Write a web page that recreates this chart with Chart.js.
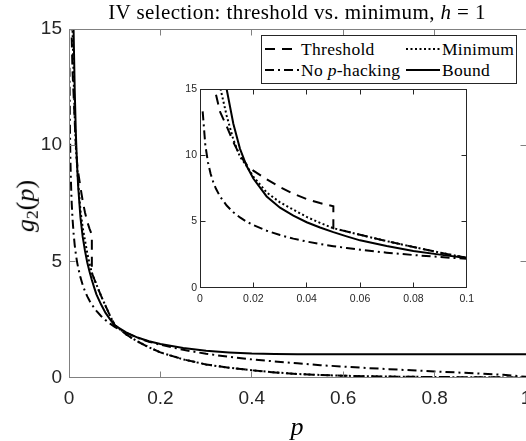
<!DOCTYPE html>
<html>
<head>
<meta charset="utf-8">
<script src="https://cdn.jsdelivr.net/npm/chart.js@4.4.0/dist/chart.umd.min.js"></script>
<style>
  html, body { margin: 0; padding: 0; background: #fff; overflow: hidden; }
  #wrap { position: relative; width: 526px; height: 441px; overflow: hidden; background: #fff; }
  #mainChart { position: absolute; left: 0; top: 0; }
  #insetChart { position: absolute; left: 160px; top: 80px; }
  .txt { position: absolute; font-family: 'Liberation Serif', serif; color: #000; white-space: nowrap; }
  #title { left: 0; width: 594px; top: 2px; text-align: center; font-size: 21px; line-height: 21px; letter-spacing: 0.4px; }
  #ylab { left: 29px; top: 206px; font-size: 26px; line-height: 26px; transform: translate(-50%, -50%) rotate(-90deg); }
  #ylab sub { font-style: normal; font-size: 0.68em; vertical-align: -0.25em; }
  #xlab { left: 297px; top: 427px; font-size: 26px; line-height: 26px; transform: translate(-50%, -50%); }
  #legend { position: absolute; left: 261px; top: 35px; width: 254px; height: 47px; border: 1px solid #262626; background: #fff; }
  .leg { font-size: 17.5px; line-height: 18px; letter-spacing: 0.3px; }
  .sample { position: absolute; }
</style>
</head>
<body>
<div id="wrap">
  <canvas id="mainChart" width="560" height="441"></canvas>
  <div id="legend"></div>
  <svg class="sample" style="left:265px; top:46px" width="34" height="6"><line x1="0" y1="3" x2="34" y2="3" stroke="#000" stroke-width="2" stroke-dasharray="10 7"/></svg>
  <div class="txt leg" style="left:301px; top:40px">Threshold</div>
  <svg class="sample" style="left:406px; top:46px" width="34" height="6"><line x1="0" y1="3" x2="34" y2="3" stroke="#000" stroke-width="2" stroke-dasharray="2 2.5"/></svg>
  <div class="txt leg" style="left:442px; top:40px">Minimum</div>
  <svg class="sample" style="left:265px; top:67px" width="34" height="6"><line x1="0" y1="3" x2="34" y2="3" stroke="#000" stroke-width="2" stroke-dasharray="9 4 2 4"/></svg>
  <div class="txt leg" style="left:301px; top:61px">No <i>p</i>-hacking</div>
  <svg class="sample" style="left:406px; top:67px" width="34" height="6"><line x1="0" y1="3" x2="34" y2="3" stroke="#000" stroke-width="2"/></svg>
  <div class="txt leg" style="left:442px; top:61px">Bound</div>
  <canvas id="insetChart" width="320" height="230"></canvas>
  <div id="title" class="txt">IV selection: threshold vs. minimum, <i>h</i> = 1</div>
  <div id="ylab" class="txt"><i>g</i><sub>2</sub>(<i>p</i>)</div>
  <div id="xlab" class="txt"><i>p</i></div>
</div>
<script>
// p grid shared by Bound, Minimum and No p-hacking
const pGrid = [0.001, 0.002, 0.003, 0.004, 0.005, 0.006, 0.0075, 0.01, 0.0125, 0.015, 0.0175, 0.02,
  0.025, 0.03, 0.035, 0.04, 0.045, 0.05, 0.055, 0.06, 0.07, 0.08, 0.09, 0.1,
  0.125, 0.15, 0.175, 0.2, 0.25, 0.3, 0.35, 0.4, 0.45, 0.5,
  0.55, 0.6, 0.65, 0.7, 0.75, 0.8, 0.85, 0.9, 0.95, 1.0];

const gBound = [118, 63, 44, 34, 27.6, 23.5, 19.2, 15.0, 12.4, 10.5, 9.2, 8.25,
  6.9, 6.05, 5.45, 4.95, 4.55, 4.2, 3.88, 3.58, 3.15, 2.78, 2.5, 2.24,
  1.94, 1.72, 1.56, 1.44, 1.27, 1.15, 1.08, 1.03, 1.01, 1,
  1, 1, 1, 1, 1, 1, 1, 1, 1, 1];

const gMinimum = [80, 45, 33, 27, 23, 19.5, 15.2, 13.0, 11.2, 9.9, 9.2, 8.4,
  7.2, 6.45, 5.9, 5.35, 4.9, 4.5, 4.25, 4.0, 3.52, 3.08, 2.65, 2.26,
  1.85, 1.55, 1.3, 1.08, 0.78, 0.56, 0.42, 0.31, 0.22, 0.15,
  0.11, 0.075, 0.055, 0.04, 0.03, 0.02, 0.015, 0.01, 0.005, 0];

const gNoHacking = [13.33, 10.78, 9.47, 8.6, 7.97, 7.48, 6.9, 6.21, 5.7, 5.31, 4.99, 4.73,
  4.31, 3.98, 3.71, 3.49, 3.3, 3.14, 3.0, 2.87, 2.65, 2.47, 2.32, 2.18,
  1.92, 1.71, 1.54, 1.41, 1.19, 1.02, 0.89, 0.78, 0.69, 0.61,
  0.53, 0.47, 0.41, 0.36, 0.31, 0.26, 0.215, 0.168, 0.117, 0.03];

// threshold has the jump at p = 0.05
const pThreshold = [0.003, 0.004, 0.005, 0.006, 0.0075, 0.01, 0.0125, 0.015, 0.0175, 0.02,
  0.025, 0.03, 0.035, 0.04, 0.045, 0.05, 0.05, 0.055, 0.06, 0.07, 0.08, 0.09, 0.1,
  0.125, 0.15, 0.175, 0.2, 0.25, 0.3, 0.35, 0.4, 0.45, 0.5,
  0.55, 0.6, 0.65, 0.7, 0.75, 0.8, 0.85, 0.9, 0.95, 1.0];
const gThreshold = [30, 22, 16.6, 14.6, 13.3, 12.2, 11.0, 10.0, 9.3, 8.85,
  8.2, 7.6, 7.1, 6.7, 6.4, 6.15, 4.5, 4.25, 4.0, 3.52, 3.08, 2.65, 2.26,
  1.85, 1.55, 1.3, 1.08, 0.78, 0.56, 0.42, 0.31, 0.22, 0.15,
  0.11, 0.075, 0.055, 0.04, 0.03, 0.02, 0.015, 0.01, 0.005, 0];

const mainXTickVals = [0, 0.2, 0.4, 0.6, 0.8, 1];
const mainXTickLabels = ['0', '0.2', '0.4', '0.6', '0.8', '1'];
const mainYTickVals = [0, 5, 10, 15];
const mainYTickLabels = ['0', '5', '10', '15'];
const insetXTickVals = [0, 0.02, 0.04, 0.06, 0.08, 0.1];
const insetXTickLabels = ['0', '0.02', '0.04', '0.06', '0.08', '0.1'];
const insetYTickVals = [0, 5, 10, 15];
const insetYTickLabels = ['0', '5', '10', '15'];

const toPoints = (xs, ys) => xs.map((x, i) => ({ x: x, y: ys[i] }));

const makeSets = () => [
  { label: 'Threshold', data: toPoints(pThreshold, gThreshold), borderDash: [10, 7] },
  { label: 'Minimum', data: toPoints(pGrid, gMinimum), borderDash: [2, 2.5] },
  { label: 'No p-hacking', data: toPoints(pGrid, gNoHacking), borderDash: [9, 4, 2, 4] },
  { label: 'Bound', data: toPoints(pGrid, gBound), borderDash: [] }
].map(d => Object.assign(d, {
  showLine: true, pointRadius: 0, borderColor: '#000', borderWidth: 2,
  tension: 0, fill: false, clip: 0
}));

// box round the plot area and the inward tick marks (MATLAB style)
const boxAndTicks = {
  id: 'boxAndTicks',
  afterDraw(chart, args, opts) {
    const { ctx, chartArea: a, scales } = chart;
    const L = Math.floor(a.left) + 0.5, R = Math.floor(a.right) + 0.5;
    const T = Math.floor(a.top) + 0.5, B = Math.floor(a.bottom) + 0.5;
    ctx.save();
    ctx.strokeStyle = opts.color;
    ctx.lineWidth = 1;
    ctx.setLineDash([]);
    ctx.strokeRect(L, T, R - L, B - T);
    ctx.beginPath();
    scales.x.ticks.forEach(t => {
      const px = Math.floor(scales.x.getPixelForValue(t.value)) + 0.5;
      ctx.moveTo(px, B); ctx.lineTo(px, B - opts.len);
      ctx.moveTo(px, T); ctx.lineTo(px, T + opts.len);
    });
    scales.y.ticks.forEach(t => {
      const py = Math.floor(scales.y.getPixelForValue(t.value)) + 0.5;
      ctx.moveTo(L, py); ctx.lineTo(L + opts.len, py);
      ctx.moveTo(R, py); ctx.lineTo(R - opts.len, py);
    });
    ctx.stroke();
    ctx.restore();
  }
};

const axis = (min, max, vals, labels, fontSize, pad, fitKey, fitSize) => ({
  type: 'linear', min: min, max: max,
  afterBuildTicks: s => { s.ticks = vals.map(v => ({ value: v })); },
  ticks: {
    autoSkip: false, maxRotation: 0, padding: pad, color: '#262626',
    font: { family: 'Liberation Sans', size: fontSize },
    callback: (v, i) => labels[i]
  },
  grid: { display: false, drawTicks: false },
  border: { display: false },
  afterFit: s => { s[fitKey] = fitSize; }
});

const baseOptions = (padding, xAxis, yAxis, boxColor, tickLen) => ({
  responsive: false, animation: false, devicePixelRatio: 1,
  layout: { padding: padding },
  plugins: {
    legend: { display: false }, tooltip: { enabled: false },
    boxAndTicks: { color: boxColor, len: tickLen }
  },
  scales: { x: xAxis, y: yAxis }
});

new Chart(document.getElementById('mainChart'), {
  type: 'scatter',
  data: { datasets: makeSets() },
  options: baseOptions(
    { left: 0, top: 29, right: 34, bottom: 0 },
    axis(0, 1, mainXTickVals, mainXTickLabels, 19, 10, 'height', 63.5),
    axis(0, 15, mainYTickVals, mainYTickLabels, 19, 7, 'width', 69),
    '#808080', 6),
  plugins: [boxAndTicks]
});

new Chart(document.getElementById('insetChart'), {
  type: 'scatter',
  data: { datasets: makeSets() },
  options: baseOptions(
    { left: 0, top: 8.3, right: 13.3, bottom: 0 },
    axis(0, 0.1, insetXTickVals, insetXTickLabels, 10.5, 5, 'height', 22.3),
    axis(0, 15, insetYTickVals, insetYTickLabels, 10.5, 3, 'width', 40),
    '#262626', 5),
  plugins: [boxAndTicks]
});
</script>
</body>
</html>
